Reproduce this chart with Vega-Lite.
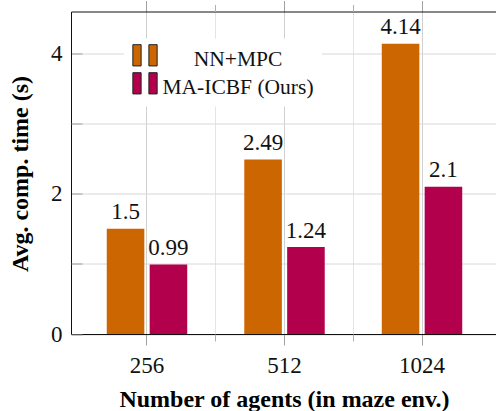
{
  "$schema": "https://vega.github.io/schema/vega-lite/v6.json",
  "width": 425,
  "height": 322.5,
  "autosize": {"type": "none"},
  "padding": {"left": 71, "top": 11.5, "right": 0, "bottom": 77},
  "config": {"view": {"stroke": null}, "font": "Liberation Serif"},
  "data": {"values": [
    {"agents": "256", "method": "NN+MPC", "time": 1.5},
    {"agents": "256", "method": "MA-ICBF (Ours)", "time": 0.99},
    {"agents": "512", "method": "NN+MPC", "time": 2.49},
    {"agents": "512", "method": "MA-ICBF (Ours)", "time": 1.24},
    {"agents": "1024", "method": "NN+MPC", "time": 4.14},
    {"agents": "1024", "method": "MA-ICBF (Ours)", "time": 2.1}
  ]},
  "layer": [
    {
      "mark": {"type": "bar"},
      "encoding": {
        "x": {"field": "agents", "type": "nominal", "sort": ["256", "512", "1024"],
          "scale": {"range": [0, 427], "paddingInner": 0, "paddingOuter": 0.0527},
          "axis": {"orient": "bottom", "title": "Number of agents (in maze env.)", "labelAngle": 0,
            "tickSize": 11, "tickColor": "#a0a0a0", "labelPadding": 9, "labelFontSize": 23, "labelColor": "#111",
            "labelFont": "Liberation Serif", "grid": true, "gridColor": "#d0d0d0", "domain": true, "domainColor": "#111", "domainWidth": 1,
            "titleFont": "Liberation Serif", "titleFontWeight": "bold", "titleFontSize": 24, "titleColor": "#000",
            "titleX": 213, "titleY": 72.5, "titleBaseline": "alphabetic", "titleAlign": "center"}},
        "y": {"field": "time", "type": "quantitative", "scale": {"domain": [0, 4.6], "nice": false, "zero": true},
          "axis": {"orient": "left", "values": [0, 2, 4], "tickSize": -11, "tickColor": "#a0a0a0", "labelPadding": 20,
            "labelFontSize": 23, "labelColor": "#111", "labelFont": "Liberation Serif", "grid": true, "gridColor": "#d8d8d8",
            "domain": true, "domainColor": "#111", "domainWidth": 1,
            "title": "Avg. comp. time (s)", "titleFont": "Liberation Serif", "titleFontWeight": "bold", "titleFontSize": 24,
            "titleColor": "#000", "titleAngle": 270, "titleX": -44, "titleY": 162, "titleBaseline": "alphabetic", "titleAlign": "center"}},
        "xOffset": {"field": "method", "type": "nominal", "sort": ["NN+MPC", "MA-ICBF (Ours)"],
          "scale": {"paddingInner": 0.124, "paddingOuter": 0.665}},
        "color": {"field": "method", "type": "nominal",
          "scale": {"domain": ["NN+MPC", "MA-ICBF (Ours)"], "range": ["#CC6600", "#B3004D"]},
          "legend": {"orient": "none", "legendX": 53, "legendY": 27, "title": null,
            "symbolType": "M-1,-1.22H-0.32V0.53H-1Z M0.32,-1.22H1V0.53H0.32Z", "symbolSize": 590,
            "symbolStrokeColor": "#222", "symbolStrokeWidth": 1, "symbolOpacity": 1,
            "labelFontSize": 21.5, "labelFont": "Liberation Serif", "labelColor": "#111",
            "labelAlign": "center", "labelOffset": 80, "labelLimit": 300, "labelBaseline": "middle",
            "rowPadding": 0, "padding": 8, "fillColor": "white", "strokeColor": null}}
      }
    },
    {
      "mark": {"type": "text", "baseline": "alphabetic", "dy": -9.5, "fontSize": 23, "color": "#111", "font": "Liberation Serif"},
      "encoding": {
        "x": {"field": "agents", "type": "nominal", "sort": ["256", "512", "1024"], "axis": null},
        "y": {"field": "time", "type": "quantitative", "axis": null},
        "xOffset": {"field": "method", "type": "nominal", "sort": ["NN+MPC", "MA-ICBF (Ours)"]},
        "text": {"field": "time", "type": "quantitative", "format": ".2~f"}
      }
    },
    {
      "mark": {"type": "text", "text": ""},
      "encoding": {
        "x": {"field": "agents", "type": "nominal", "sort": ["256", "512", "1024"],
          "axis": {"orient": "bottom", "values": ["512", "1024"], "bandPosition": 0, "tickSize": 7, "tickColor": "#b0b0b0",
            "labels": false, "title": null, "domain": false, "grid": true, "gridColor": "#e4e4e4"}}
      }
    },
    {
      "mark": {"type": "text", "text": ""},
      "encoding": {
        "x": {"field": "agents", "type": "nominal", "sort": ["256", "512", "1024"],
          "axis": {"orient": "top", "tickSize": 11, "tickColor": "#a0a0a0", "labels": false, "title": null,
            "domain": true, "domainColor": "#111", "domainWidth": 1, "grid": false}}
      }
    },
    {
      "mark": {"type": "text", "text": ""},
      "encoding": {
        "x": {"field": "agents", "type": "nominal", "sort": ["256", "512", "1024"],
          "axis": {"orient": "top", "values": ["512", "1024"], "bandPosition": 0, "tickSize": 7, "tickColor": "#b0b0b0",
            "labels": false, "title": null, "domain": false, "grid": false}}
      }
    },
    {
      "mark": {"type": "text", "text": ""},
      "encoding": {
        "y": {"field": "time", "type": "quantitative",
          "axis": {"orient": "left", "values": [1, 3], "tickSize": -11, "tickColor": "#a0a0a0", "labels": false, "title": null,
            "domain": false, "grid": true, "gridColor": "#d8d8d8"}}
      }
    }
  ],
  "resolve": {"axis": {"x": "independent", "y": "independent"}}
}
